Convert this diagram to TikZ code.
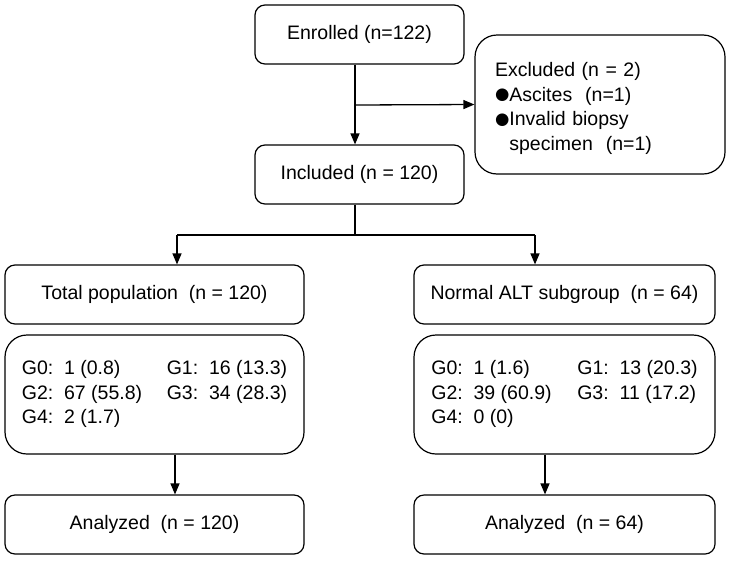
\documentclass[tikz,border=0pt]{standalone}
\usepackage{fontspec}
\setmainfont{Liberation Sans}
\newfontfamily\dotfont{DejaVu Sans}
\usetikzlibrary{arrows.meta}
\tikzset{
  every picture/.style={line join=round, >={Triangle[length=11pt,width=9pt]}},
  box/.style={draw, line width=1.2pt, rounded corners=10pt, align=center,
    inner sep=0pt, font=\fontsize{19.5}{24.5}\selectfont},
  bigbox/.style={box, rounded corners=22pt},
  link/.style={line width=1.3pt},
}
\newcommand{\gsp}{\ \ }
\newcommand{\blob}{\raisebox{1.5pt}{\dotfont\fontsize{16.5}{24.5}\selectfont ●}}

\begin{document}
\begin{tikzpicture}[x=1pt,y=-1pt]
\useasboundingbox (0,0) rectangle (730,560);
\node[box, minimum width=209pt, minimum height=59pt] (enrol) at (359.5,34.5) {Enrolled (n=122)};
\node[bigbox, text width=210pt, inner xsep=20pt, minimum height=139pt, align=left] (excl) at (600,104.5)
  {\rule{0pt}{22pt}Excluded (n = 2)\\ \blob Ascites\gsp(n=1)\\ \blob Invalid biopsy\\ \phantom{\blob}specimen\gsp(n=1)};
\node[box, minimum width=209pt, minimum height=59pt] (incl) at (359.5,174.5) {Included (n = 120)};

\node[box, minimum width=299pt, minimum height=59pt] (total) at (154.5,294.5) {Total population\gsp(n = 120)};
\node[bigbox, minimum width=299pt, minimum height=119pt] (tgrade) at (154.5,394.5)
  {\begin{tabular}{@{}p{145pt}@{}l@{}}
   G0:\gsp1 (0.8) & G1:\gsp16 (13.3)\\
   G2:\gsp67 (55.8) & G3:\gsp34 (28.3)\\
   G4:\gsp2 (1.7) &
   \end{tabular}};
\node[box, minimum width=299pt, minimum height=59pt] (tana) at (154.5,524.5) {Analyzed\gsp(n = 120)};

\node[box, minimum width=301pt, minimum height=59pt] (normal) at (564.5,294.5) {Normal ALT subgroup\gsp(n = 64)};
\node[bigbox, minimum width=301pt, minimum height=119pt] (ngrade) at (564.5,394.5)
  {\begin{tabular}{@{}p{146pt}@{}l@{}}
   G0:\gsp1 (1.6) & G1:\gsp13 (20.3)\\
   G2:\gsp39 (60.9) & G3:\gsp11 (17.2)\\
   G4:\gsp0 (0) &
   \end{tabular}};
\node[box, minimum width=301pt, minimum height=59pt] (nana) at (564.5,524.5) {Analyzed\gsp(n = 64)};

\coordinate (split) at (355,105);
\coordinate (fork) at (355,235);
\coordinate (forkL) at (177,235);
\coordinate (forkR) at (535,235);
\draw[link,->] (enrol.south -| split) -- (incl.north -| split);
\draw[link,->] (split) -- (excl.west);
\draw[link] (incl.south -| fork) -- (fork);
\draw[link] (forkL) -- (forkR);
\draw[link,->] (forkL) -- (total.north -| forkL);
\draw[link,->] (forkR) -- (normal.north -| forkR);
\draw[link,->] ([xshift=20.5pt]tgrade.south) -- ([xshift=20.5pt]tana.north);
\draw[link,->] ([xshift=-19.5pt]ngrade.south) -- ([xshift=-19.5pt]nana.north);
\end{tikzpicture}
\end{document}
